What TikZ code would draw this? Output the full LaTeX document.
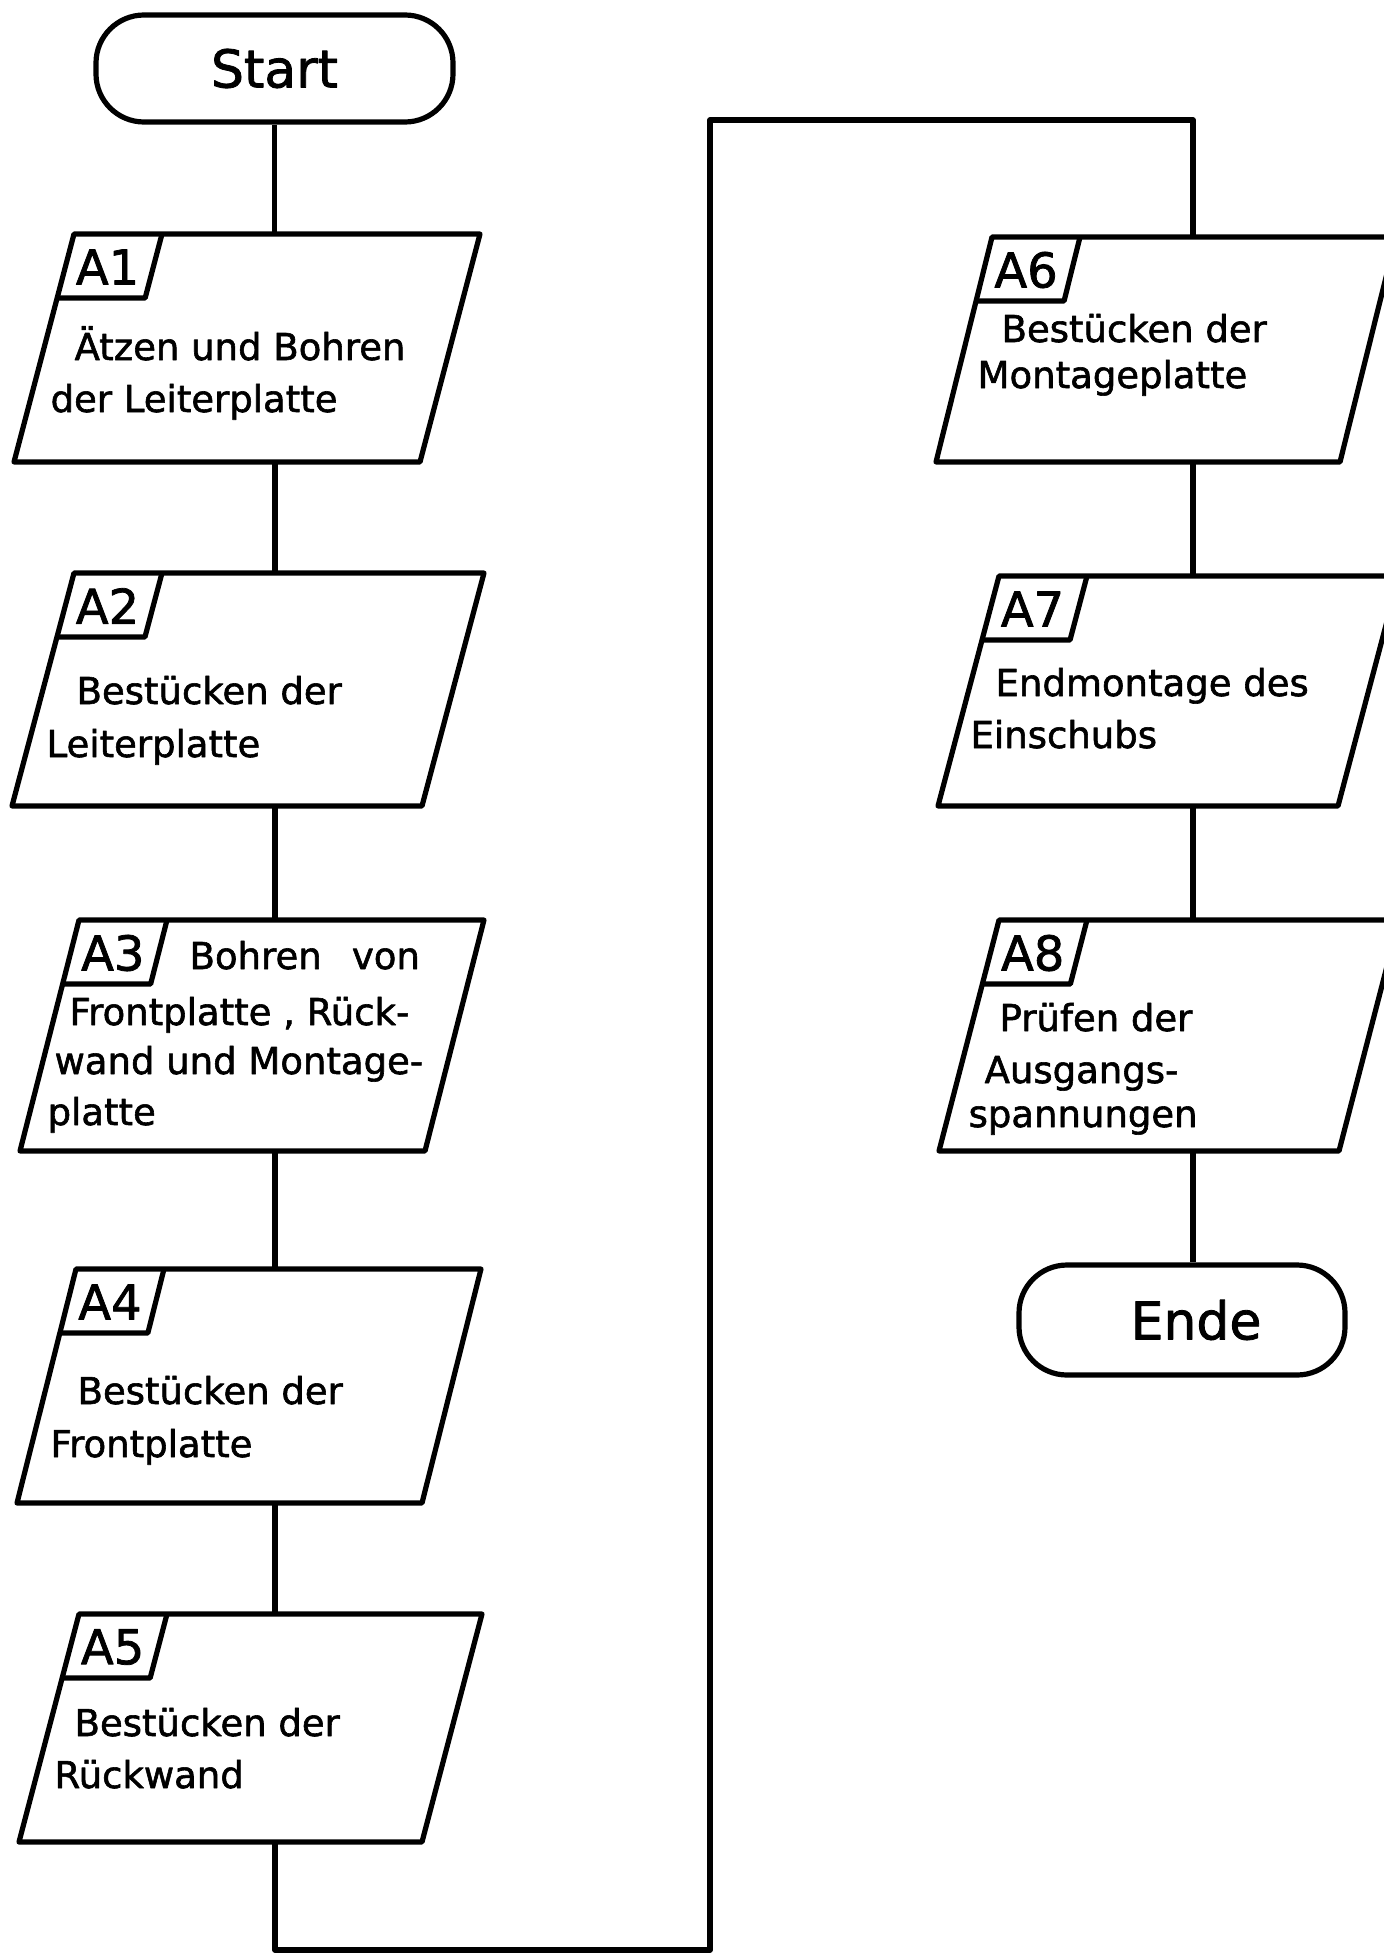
\documentclass[tikz,border=0pt]{standalone}
\usepackage{fontspec}
\setmainfont[FakeBold=1.2]{DejaVu Sans}
\newfontfamily\din[FakeBold=1.6]{DejaVu Sans}
\newcommand\pgbox[8]{% #1 name, #2 x, #3 y, #4 w, #5 h, #6 slant, #7 label, #8 connector x
  \draw (#2,#3) -- ({#2+#4},#3) -- ({#2+#4-#6},{#3+#5}) -- ({#2-#6},{#3+#5}) -- cycle;
  \draw ({#2+88},#3) -- ({#2+88-#6*64/#5},{#3+64}) -- ({#2-#6*64/#5},{#3+64});
  \node[lbl] (#1-lbl) at ({#2+42-#6*32/#5},{#3+33}) {#7};
  \coordinate (#1-n) at (#8,#3);
  \coordinate (#1-s) at (#8,{#3+#5});
}
\begin{document}
\begin{tikzpicture}[x=0.5pt,y=-0.5pt,line width=2.6pt,line join=round,
  txt/.style={anchor=base west,inner sep=0pt,font=\din\fontsize{18.5pt}{22pt}\selectfont},
  lbl/.style={anchor=center,inner sep=0pt,font=\din\fontsize{24pt}{28pt}\selectfont},
  term/.style={draw,rounded corners=24pt,inner sep=0pt,font=\din\fontsize{26pt}{30pt}\selectfont}]
\useasboundingbox (0,0) rectangle (1384,1953);
\clip (0,0) rectangle (1384,1953);
% terminals
\node[term,minimum width=178.5pt,minimum height=53.5pt] (start) at (274.5,68.5) {Start};
\node[term,minimum width=163pt,minimum height=55pt] (ende) at (1182,1320) {\hspace{14pt}Ende};
% left column
\pgbox{A1}{74}{234}{406}{228}{60}{A1}{275}
\pgbox{A2}{74}{573}{410}{233}{62}{A2}{275}
\pgbox{A3}{79}{920}{405}{231}{59}{A3}{275}
\pgbox{A4}{76}{1269}{405}{234}{59}{A4}{275}
\pgbox{A5}{79}{1614}{403}{228}{60}{A5}{275}
% right column
\pgbox{A6}{992}{237}{404}{225}{56}{A6}{1193}
\pgbox{A7}{999}{576}{400}{230}{61}{A7}{1193}
\pgbox{A8}{999}{920}{400}{231}{60}{A8}{1193}
% texts
\node[txt] (t1a) at (72,360) {Ätzen und Bohren};
\node[txt] (t1b) at (48,412) {der Leiterplatte};
\node[txt] (t2a) at (74,704) {Bestücken der};
\node[txt] (t2b) at (44,757) {Leiterplatte};
\node[txt] (t3a) at (187,969) {Bohren\hspace{0.5em} von};
\node[txt] (t3b) at (67,1025) {Frontplatte , Rück-};
\node[txt] (t3c) at (52,1074) {wand und Montage-};
\node[txt] (t3d) at (45,1125) {platte};
\node[txt] (t4a) at (75,1404) {Bestücken der};
\node[txt] (t4b) at (48,1457) {Frontplatte};
\node[txt] (t5a) at (72,1736) {Bestücken der};
\node[txt] (t5b) at (52,1788) {Rückwand};
\node[txt] (t6a) at (999,342) {Bestücken der};
\node[txt] (t6b) at (975,388) {Montageplatte};
\node[txt] (t7a) at (993,696) {Endmontage des};
\node[txt] (t7b) at (968,748) {Einschubs};
\node[txt] (t8a) at (997,1031) {Prüfen der};
\node[txt] (t8b) at (982,1083) {Ausgangs-};
\node[txt] (t8c) at (966,1127) {spannungen};
% connectors
\coordinate (c1) at (275,1950);
\coordinate (c2) at (710,1950);
\coordinate (c3) at (710,120);
\coordinate (c4) at (1193,120);
\draw (start.south) -- (start.south |- A1-n);
\draw (A1-s) -- (A2-n);
\draw (A2-s) -- (A3-n);
\draw (A3-s) -- (A4-n);
\draw (A4-s) -- (A5-n);
\draw (A5-s) -- (c1) -- (c2) -- (c3) -- (c4) -- (A6-n);
\draw (A6-s) -- (A7-n);
\draw (A7-s) -- (A8-n);
\draw (A8-s) -- (A8-s |- ende.north);
\end{tikzpicture}
\end{document}
